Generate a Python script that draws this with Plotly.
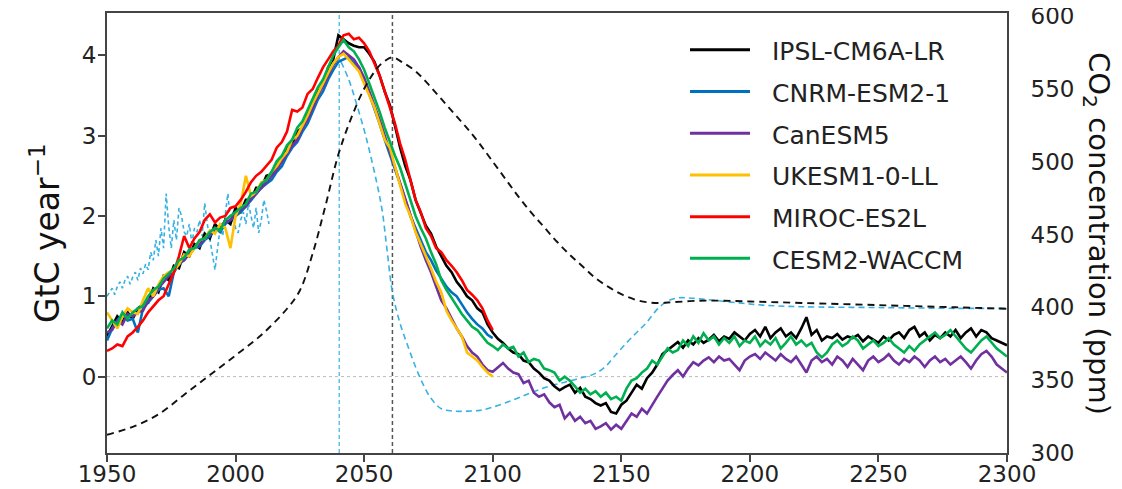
import plotly.graph_objects as go

# ---------------- data ----------------
years_short = list(range(1950, 2101, 2))
years_long = list(range(1950, 2301, 2))

names = ["IPSL-CM6A-LR", "CNRM-ESM2-1", "CanESM5", "UKESM1-0-LL", "MIROC-ES2L", "CESM2-WACCM"]
colors = ["#000000", "#0070C0", "#7030A0", "#FFC000", "#FF0000", "#00B050"]

ipsl = [0.5, 0.62, 0.75, 0.68, 0.8, 0.72, 0.85, 0.9, 0.92, 1.1,
        1.05, 1.25, 1.2, 1.38, 1.35, 1.55, 1.5, 1.65, 1.6, 1.78,
        1.72, 1.9, 1.82, 1.95, 1.9, 2.1, 2.05, 2.2, 2.2, 2.35,
        2.35, 2.5, 2.52, 2.62, 2.72, 2.85, 2.9, 3.05, 3.1, 3.28,
        3.4, 3.55, 3.62, 3.85, 3.95, 4.25, 4.2, 4.15, 4.12, 4.1,
        4.1, 4.02, 3.92, 3.75, 3.55, 3.38, 3.12, 2.85, 2.62, 2.45,
        2.2, 2.05, 1.88, 1.78, 1.62, 1.5, 1.38, 1.3, 1.18, 1.1,
        1.0, 0.95, 0.85, 0.8, 0.65, 0.55,
        0.47, 0.42, 0.35, 0.3, 0.28, 0.2, 0.18, 0.1, 0.05, -0.02,
        -0.05, -0.12, -0.17, -0.13, -0.1, -0.2, -0.14, -0.25, -0.28, -0.33,
        -0.36, -0.33, -0.44, -0.46, -0.35, -0.3, -0.2, -0.1, -0.15, -0.02,
        0.05, 0.15, 0.28, 0.33, 0.38, 0.43, 0.36, 0.45, 0.4, 0.48,
        0.42, 0.46, 0.52, 0.44, 0.5, 0.47, 0.55, 0.5, 0.45, 0.53,
        0.58, 0.5, 0.62, 0.48, 0.55, 0.6, 0.5, 0.55, 0.48, 0.6,
        0.74, 0.52, 0.58, 0.45, 0.5, 0.48, 0.53, 0.46, 0.5, 0.48,
        0.52, 0.44, 0.5, 0.46, 0.42, 0.5, 0.45, 0.52, 0.55, 0.48,
        0.58, 0.62, 0.5, 0.55, 0.45, 0.52, 0.48, 0.55, 0.5, 0.58,
        0.48, 0.55, 0.6, 0.5, 0.58, 0.55, 0.48, 0.45, 0.42, 0.39]

cnrm = [0.45, 0.6, 0.7, 0.78, 0.7, 0.72, 0.55, 0.85, 0.92, 1.0,
        1.08, 1.1, 1.0, 1.3, 1.4, 1.45, 1.55, 1.6, 1.62, 1.7,
        1.75, 1.85, 1.8, 1.9, 1.95, 2.0, 2.05, 2.12, 2.2, 2.28,
        2.35, 2.4, 2.45, 2.55, 2.62, 2.75, 2.85, 2.92, 3.05, 3.15,
        3.3, 3.45, 3.55, 3.7, 3.82, 3.92, 3.95, 3.98, 3.9, 3.85,
        3.7, 3.52, 3.35, 3.15, 2.95, 2.75, 2.58, 2.4, 2.2, 2.0,
        1.85, 1.7, 1.55, 1.45, 1.32, 1.22, 1.12, 1.05, 1.0, 0.9,
        0.8, 0.72, 0.65, 0.6, 0.52, 0.48]

canesm = [0.55, 0.58, 0.7, 0.65, 0.78, 0.75, 0.8, 0.82, 0.95, 1.0,
          1.1, 1.18, 1.25, 1.3, 1.42, 1.45, 1.52, 1.6, 1.65, 1.72,
          1.78, 1.8, 1.88, 1.92, 1.95, 2.02, 2.08, 2.12, 2.22, 2.28,
          2.35, 2.42, 2.5, 2.58, 2.68, 2.78, 2.88, 2.95, 3.1, 3.2,
          3.35, 3.5, 3.62, 3.75, 3.88, 3.98, 4.05, 4.0, 3.95, 3.85,
          3.72, 3.55, 3.38, 3.2, 3.0, 2.8, 2.6, 2.4, 2.2, 2.0,
          1.8, 1.62, 1.45, 1.3, 1.12, 0.95, 0.85, 0.72, 0.6, 0.5,
          0.38, 0.3, 0.25, 0.15, 0.08, 0.06,
          0.12, 0.17, 0.1, 0.05, 0.03, -0.08, -0.05, -0.2, -0.25, -0.22,
          -0.32, -0.38, -0.35, -0.52, -0.45, -0.55, -0.5, -0.58, -0.55, -0.65,
          -0.62, -0.58, -0.66, -0.6, -0.65, -0.55, -0.46, -0.5, -0.4, -0.46,
          -0.35, -0.25, -0.15, -0.05, 0.02, 0.08, 0.0, 0.1, 0.18, 0.14,
          0.2, 0.24, 0.18, 0.25, 0.2, 0.22, 0.15, 0.08, 0.2, 0.25,
          0.28, 0.22, 0.3, 0.25, 0.2, 0.28, 0.22, 0.18, 0.25, 0.15,
          0.05, 0.2, 0.25, 0.18, 0.22, 0.15, 0.25, 0.2, 0.12, 0.22,
          0.15, 0.08, 0.2, 0.25, 0.18, 0.22, 0.28, 0.2, 0.15, 0.22,
          0.18, 0.25, 0.2, 0.12, 0.2, 0.25, 0.18, 0.22, 0.15, 0.2,
          0.25, 0.18, 0.1, 0.2, 0.28, 0.32, 0.25, 0.15, 0.1, 0.05]

ukesm = [0.8, 0.7, 0.6, 0.75, 0.85, 0.8, 0.78, 0.95, 1.1, 1.0,
         1.15, 1.25, 1.3, 1.32, 1.4, 1.52, 1.5, 1.6, 1.7, 1.72,
         1.82, 1.78, 1.9, 1.85, 1.6, 2.0, 2.15, 2.5, 2.25, 2.3,
         2.42, 2.45, 2.55, 2.62, 2.72, 2.8, 2.95, 3.0, 3.12, 3.25,
         3.4, 3.52, 3.65, 3.78, 3.9, 3.98, 4.02, 3.95, 3.88, 3.8,
         3.65, 3.5, 3.35, 3.15, 2.95, 2.85, 2.6, 2.38, 2.15, 2.0,
         1.8, 1.65, 1.52, 1.35, 1.18, 1.05, 0.82, 0.7, 0.6, 0.5,
         0.3, 0.25, 0.2, 0.12, 0.05, 0.0]

miroc = [0.32, 0.35, 0.4, 0.38, 0.5, 0.55, 0.62, 0.7, 0.8, 0.88,
         0.95, 1.0, 1.15, 1.3, 1.5, 1.75, 1.6, 1.72, 1.8, 1.95,
         2.02, 1.92, 1.98, 2.0, 2.1, 2.12, 2.2, 2.3, 2.42, 2.5,
         2.55, 2.62, 2.7, 2.85, 2.92, 3.05, 3.32, 3.3, 3.35, 3.52,
         3.58, 3.72, 3.85, 3.95, 4.05, 4.12, 4.25, 4.27, 4.2, 4.22,
         4.15, 4.05, 3.9, 3.75, 3.55, 3.35, 3.15, 2.9, 2.7, 2.45,
         2.2, 2.05, 1.85, 1.75, 1.6, 1.55, 1.45, 1.38, 1.3, 1.2,
         1.08, 1.02, 0.95, 0.85, 0.7, 0.58]

cesm = [0.6, 0.7, 0.65, 0.8, 0.72, 0.8, 0.85, 0.88, 1.0, 1.08,
        1.12, 1.22, 1.28, 1.35, 1.45, 1.48, 1.58, 1.6, 1.7, 1.72,
        1.8, 1.85, 1.82, 1.95, 2.0, 2.05, 2.1, 2.15, 2.28, 2.3,
        2.4, 2.45, 2.55, 2.68, 2.75, 2.88, 2.95, 3.1, 3.18, 3.32,
        3.45, 3.6, 3.7, 3.85, 4.0, 4.1, 4.19, 4.1, 4.05, 3.95,
        3.82, 3.65, 3.48, 3.3, 3.1, 2.92, 2.75, 2.6, 2.4, 2.2,
        2.0, 1.85, 1.72, 1.55, 1.4, 1.2, 1.08, 0.98, 0.88, 0.78,
        0.7, 0.62, 0.58, 0.5, 0.42, 0.38,
        0.33, 0.4, 0.35, 0.37, 0.25, 0.3, 0.18, 0.22, 0.2, 0.1,
        0.08, 0.05, -0.05, 0.0, -0.05, -0.12, -0.2, -0.15, -0.22, -0.18,
        -0.25, -0.2, -0.28, -0.25, -0.3, -0.15, -0.05, -0.02, 0.05, 0.1,
        0.2, 0.15, 0.25, 0.35, 0.3, 0.33, 0.45, 0.38, 0.5, 0.42,
        0.54, 0.45, 0.5, 0.4, 0.48, 0.42, 0.5, 0.38, 0.45, 0.42,
        0.5, 0.38, 0.45, 0.4, 0.48, 0.35, 0.42, 0.5, 0.4, 0.45,
        0.38, 0.42, 0.3, 0.24, 0.3, 0.4, 0.45, 0.38, 0.42, 0.5,
        0.45, 0.35, 0.4, 0.45, 0.38, 0.42, 0.48, 0.4, 0.35, 0.3,
        0.38, 0.32, 0.4, 0.45, 0.5, 0.55, 0.48, 0.52, 0.58, 0.5,
        0.42, 0.35, 0.3, 0.38, 0.45, 0.5, 0.42, 0.35, 0.3, 0.25]

model_values = [ipsl, cnrm, canesm, ukesm, miroc, cesm]

# observation-based sink estimate (cyan dashed, noisy)
obs_years = list(range(1950, 2014))
obs_vals = [1.0, 1.05, 1.1, 1.02, 1.12, 1.18, 1.1, 1.2, 1.25, 1.15,
            1.24, 1.3, 1.2, 1.35, 1.28, 1.4, 1.33, 1.55, 1.45, 1.7,
            1.5, 1.85, 1.6, 2.28, 1.87, 1.6, 1.95, 1.7, 2.1, 2.0,
            1.8, 1.75, 1.9, 1.66, 1.85, 1.8, 1.95, 1.75, 2.16, 1.9,
            1.7, 1.55, 1.33, 1.6, 1.85, 1.75, 2.0, 2.28, 1.9, 2.05,
            1.85, 1.79, 1.95, 2.05, 1.9, 2.16, 2.0, 1.85, 2.1, 1.79,
            1.95, 2.2, 2.07, 1.9]

# smooth cyan dashed curve
cyan_years = [2041, 2044, 2047, 2050, 2052, 2055, 2057, 2059, 2061, 2064,
              2067, 2070, 2073, 2076, 2080, 2085, 2090, 2095, 2100, 2108,
              2115, 2121, 2128, 2134, 2140, 2144, 2147, 2152, 2156, 2160,
              2164, 2168, 2172, 2176, 2180, 2186, 2195, 2205, 2220, 2250,
              2280, 2300]
cyan_vals = [3.92, 3.7, 3.4, 3.07, 2.82, 2.4, 2.07, 1.55, 1.05, 0.66,
             0.38, 0.12, -0.1, -0.27, -0.4, -0.43, -0.43, -0.42, -0.38, -0.29,
             -0.2, -0.13, -0.07, -0.02, 0.04, 0.13, 0.24, 0.42, 0.55, 0.68,
             0.84, 0.94, 0.98, 0.98, 0.97, 0.95, 0.92, 0.89, 0.87, 0.86,
             0.85, 0.85]

# CO2 concentration (ppm, right axis)
co2_years = [1950, 1960, 1970, 1980, 1990, 2000, 2010, 2020, 2025, 2030,
             2035, 2040, 2045, 2050, 2055, 2058, 2061, 2065, 2070, 2075,
             2080, 2085, 2090, 2095, 2100, 2105, 2110, 2115, 2120, 2125,
             2130, 2135, 2140, 2145, 2150, 2155, 2160, 2165, 2170, 2180,
             2190, 2200, 2220, 2250, 2280, 2300]
co2_vals = [312.5, 318, 326.5, 340, 353.5, 367, 381, 399, 411.5, 437,
            470, 505, 530, 550, 564, 569, 571.5, 568, 562, 553,
            543, 533, 523, 512, 500, 488, 476, 465, 455, 445,
            436, 428, 420, 414, 409, 405.5, 403.5, 403, 403.5, 404.5,
            404.5, 404, 403, 401.5, 400, 399]

vline_cyan_year = 2040.3
vline_black_year = 2061

x_ticks = [1950, 2000, 2050, 2100, 2150, 2200, 2250, 2300]
y_ticks = [0, 1, 2, 3, 4]
y2_ticks = [300, 350, 400, 450, 500, 550, 600]

# ---------------- figure ----------------
CYAN = "#38b2e3"
FONT = "DejaVu Sans"
OFF = 8  # page body margin offset of the rendered figure
fig = go.Figure()

fig.add_trace(go.Scatter(x=obs_years, y=obs_vals, mode="lines",
                         line=dict(color=CYAN, width=1.6, dash="4px,3px"),
                         showlegend=False))
fig.add_trace(go.Scatter(x=cyan_years, y=cyan_vals, mode="lines",
                         line=dict(color=CYAN, width=1.6, dash="6px,4px", shape="spline"),
                         showlegend=False))

for name, col, vals in zip(names, colors, model_values):
    xs = years_long if len(vals) == len(years_long) else years_short
    fig.add_trace(go.Scatter(x=xs, y=vals, mode="lines", name=name,
                             line=dict(color=col, width=2.6), showlegend=False))

fig.add_trace(go.Scatter(x=co2_years, y=co2_vals, mode="lines", yaxis="y2",
                         line=dict(color="#111111", width=1.9, dash="7px,5px", shape="spline"),
                         showlegend=False))

shapes = [
    dict(type="line", xref="paper", x0=0, x1=1, yref="y", y0=0, y1=0,
         line=dict(color="#bbbbbb", width=1, dash="dot"), layer="below"),
    dict(type="line", xref="x", x0=vline_cyan_year, x1=vline_cyan_year, yref="paper", y0=0, y1=1,
         line=dict(color=CYAN, width=1.2, dash="4px,3px"), layer="below"),
    dict(type="line", xref="x", x0=vline_black_year, x1=vline_black_year, yref="paper", y0=0, y1=1,
         line=dict(color="#555555", width=1.5, dash="4px,3px"), layer="below"),
]

# plot area in screen pixels (reference)
L, R, T, B = 107, 1007, 13.3, 452.7
W, H = R - L, B - T
annotations = []
row_y = [50, 91.7, 133.3, 175, 216.7, 258.3]
for name, col, py in zip(names, colors, row_y):
    yp = (B - py) / H
    shapes.append(dict(type="line", xref="paper", yref="paper",
                       x0=(690 - L) / W, x1=(750 - L) / W, y0=yp, y1=yp,
                       line=dict(color=col, width=3)))
    annotations.append(dict(xref="paper", yref="paper", x=(770 - L) / W, y=(B - py - 2) / H,
                            text=name, showarrow=False, xanchor="left", yanchor="middle",
                            font=dict(family=FONT, size=25, color="#222222")))

annotations.append(dict(xref="paper", yref="paper", x=(45 - L) / W, y=0.5,
                        text="GtC year<sup>−1</sup>", textangle=-90, showarrow=False,
                        xanchor="center", yanchor="middle",
                        font=dict(family=FONT, size=33, color="#111111")))
annotations.append(dict(xref="paper", yref="paper", x=(1097 - L) / W, y=0.5,
                        text="CO<sub>2</sub> concentration (ppm)", textangle=90, showarrow=False,
                        xanchor="center", yanchor="middle",
                        font=dict(family=FONT, size=29, color="#111111")))

axis_col = "#444444"
tick_font = dict(family=FONT, size=23, color="#222222")
fig.update_layout(
    width=1122, height=489, autosize=False,
    margin=dict(l=L - OFF, r=1122 - (R - OFF), t=T - OFF, b=489 - (B - OFF), pad=0),
    paper_bgcolor="white", plot_bgcolor="white",
    font=dict(family=FONT, size=23, color="#222222"),
    showlegend=False,
    shapes=shapes, annotations=annotations,
    xaxis=dict(range=[1950, 2300], tickvals=x_ticks, ticks="outside", ticklen=7,
               tickwidth=1.5, tickcolor=axis_col, showline=True, linecolor=axis_col,
               linewidth=1.8, mirror=True, showgrid=False, zeroline=False, automargin=False,
               ticklabelstandoff=-8, ticklabeloverflow="allow", tickfont=tick_font),
    yaxis=dict(range=[-0.951, 4.527], tickvals=y_ticks, ticks="outside", ticklen=7,
               tickwidth=1.5, tickcolor=axis_col, showline=True, linecolor=axis_col,
               linewidth=1.8, mirror=True, showgrid=False, zeroline=False, automargin=False,
               ticklabelstandoff=-3, ticklabeloverflow="allow", tickfont=tick_font),
    yaxis2=dict(range=[300, 602], tickvals=y2_ticks, overlaying="y", side="right",
                ticks="outside", ticklen=18, tickcolor="rgba(0,0,0,0)", automargin=False,
                showline=False, showgrid=False, zeroline=False,
                ticklabeloverflow="allow", tickfont=tick_font),
)

fig.write_html("out.html")
